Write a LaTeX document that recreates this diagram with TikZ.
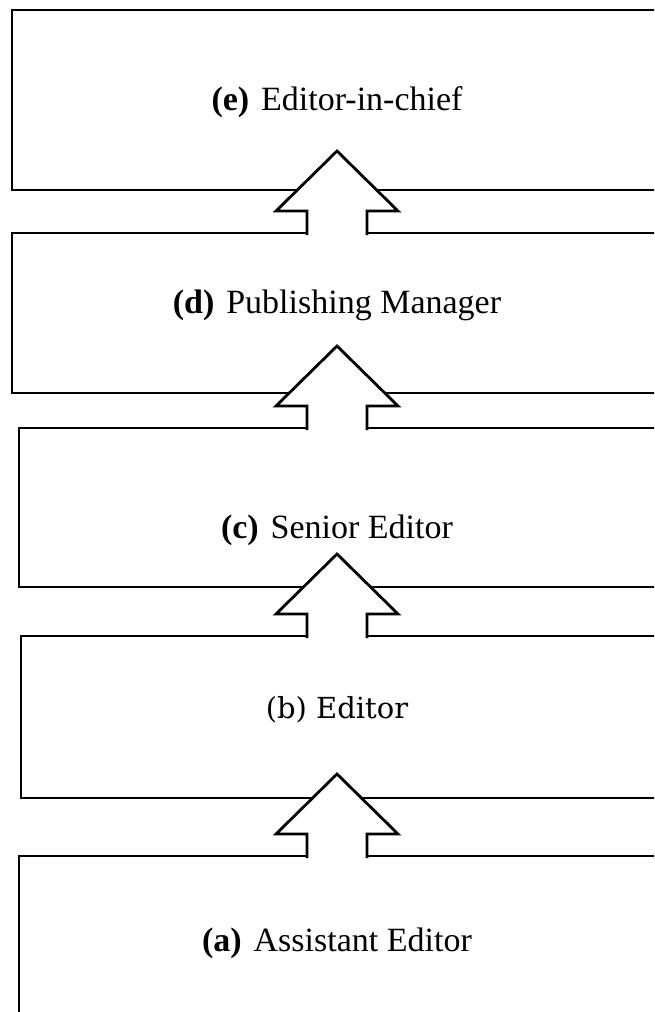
\documentclass[tikz,border=0pt]{standalone}
\usepackage{fontspec}
\setmainfont{Liberation Serif}
\newfontfamily\dejavuserif{DejaVu Serif}
\usetikzlibrary{positioning, calc}

\tikzset{
    levelbox/.style={draw, line width=1.4pt, rectangle, anchor=north west, minimum width=345pt, inner sep=0pt, outer sep=0pt},
    levellabel/.style={inner sep=0pt, font=\fontsize{17}{20}\selectfont},
    promote/.style={draw, fill=white, line width=1.4pt, line join=miter}
}

\begin{document}
\begin{tikzpicture}[x=0.5pt, y=-0.5pt]
    \clip (0,0) rectangle (654,1012);
    \coordinate (spine) at (337,0);

    % Levels, top to bottom
    \node[levelbox, minimum height=90pt] (chief) at (12,10) {};
    \node[levelbox, minimum height=80pt] (manager) at (12,233) {};
    \node[levelbox, minimum height=79.5pt] (senior) at (19,428) {};
    \node[levelbox, minimum height=81pt] (editor) at (21,636) {};
    \node[levelbox, minimum height=100pt] (assistant) at (19,856) {};

    % Titles
    \node[levellabel] (chieflbl) at (337,102) {\textbf{(e)}\hspace{0.35em}Editor-in-chief};
    \node[levellabel] (managerlbl) at (337,305) {\textbf{(d)}\hspace{0.35em}Publishing Manager};
    \node[levellabel] (seniorlbl) at (337,530) {\textbf{(c)}\hspace{0.35em}Senior Editor};
    \node[inner sep=0pt, font=\dejavuserif\fontsize{14.5}{17}\selectfont] (editorlbl) at (337,710) {(b) Editor};
    \node[levellabel] (assistantlbl) at (337,943) {\textbf{(a)}\hspace{0.35em}Assistant Editor};

    % Block arrows from each level up to the next
    \foreach \from/\to in {assistant/editor, editor/senior, senior/manager, manager/chief} {
        \coordinate (tail) at (spine |- \from.north);
        \filldraw[promote] ($(tail)+(-30,2)$) -- ++(0,-24) -- ++(-31,0)
            -- ($(tail)+(0,-82)$) -- ($(tail)+(61,-22)$) -- ($(tail)+(30,-22)$)
            -- ($(tail)+(30,2)$);
    }
\end{tikzpicture}
\end{document}
